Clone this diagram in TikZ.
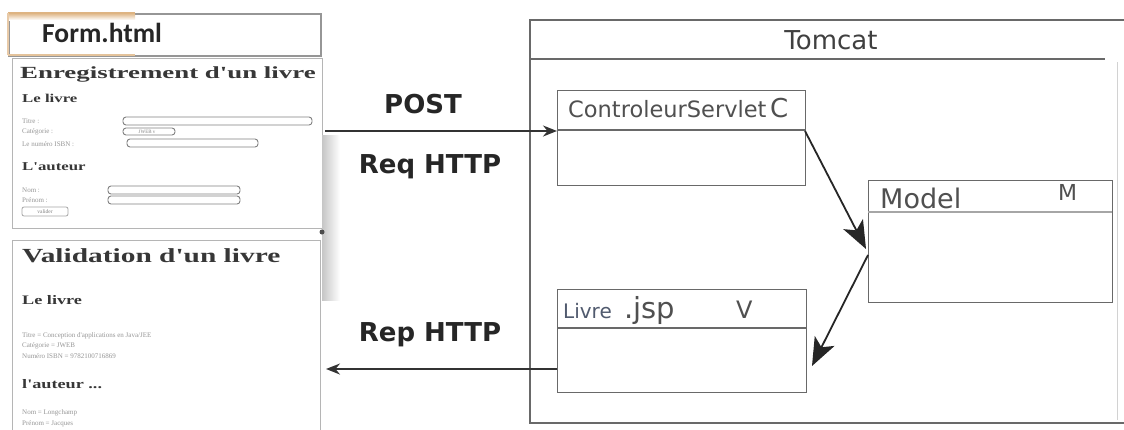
\documentclass[tikz,border=0pt]{standalone}
\usepackage{fontspec}
\setmainfont{DejaVu Sans}
\newfontfamily\carl{Carlito}
\newfontfamily\tnr{Liberation Serif}
\usetikzlibrary{arrows.meta,calc}
\definecolor{boxgray}{RGB}{105,105,105}
\definecolor{txtgray}{RGB}{80,80,80}
\definecolor{shotgray}{RGB}{55,55,55}
\definecolor{lightgray}{RGB}{150,150,150}
\definecolor{tanc}{RGB}{222,180,130}
\definecolor{livreblue}{RGB}{80,90,110}
\tikzset{
  umlbox/.style={draw=boxgray, line width=1.3pt, rectangle, inner sep=0pt},
  divider/.style={draw=boxgray, line width=1.8pt},
  lbl/.style={anchor=base west, inner sep=0pt, text=txtgray},
  http/.style={inner sep=0pt, font=\fontsize{26}{26}\selectfont\bfseries, text=black!85},
  flow/.style={draw=black!85, line width=1.8pt, -{Stealth[length=28pt,width=22pt,inset=7pt]}},
  msg/.style={draw=black!80, line width=1.8pt, -{Stealth[length=14pt,width=11pt]}},
  shot/.style={draw=lightgray!70, line width=1pt},
  shottitle/.style={anchor=base west, inner sep=0pt, text=shotgray, font=\tnr\bfseries},
  shotsmall/.style={anchor=base west, inner sep=0pt, text=lightgray, font=\tnr\fontsize{7}{7}\selectfont},
  field/.style={draw=gray, line width=0.9pt, rounded corners=3pt},
}
\begin{document}
\begin{tikzpicture}[x=1pt,y=-1pt]
\useasboundingbox (0,0) rectangle (1124,429);
\fill[white] (0,0) rectangle (1124,429);

% ---------------- Form.html header
\node[draw=lightgray, line width=1.5pt, minimum width=312pt, minimum height=42pt, anchor=north west] (formhdr) at (8,13) {};
\shade[top color=tanc, bottom color=white] (8,13) rectangle (135,20);
\draw[tanc, line width=2.5pt] (8,13) -- (135,13);
\draw[tanc!80, line width=2pt] (8,55) -- (135,55);
\draw[tanc!70, line width=1.5pt] (8,13) -- (8,55);
\node[anchor=base west, inner sep=0pt, font=\carl\bfseries\fontsize{27.5}{27.5}\selectfont, text=black!85] (formtxt) at (42,42) {Form.html};

% ---------------- Form screenshot
\node[shot, minimum width=310pt, minimum height=170pt, anchor=north west] (formshot) at (12,58) {};
\shade[left color=gray!45, right color=white] (322,135) rectangle (340,300);
\fill[black!70] (322,232) circle (2.5pt);
\node[shottitle, font=\tnr\bfseries\fontsize{17}{17}\selectfont] (enreg) at (20,78) {\scalebox{1.58}[1]{Enregistrement d'un livre}};
\node[shottitle, font=\tnr\bfseries\fontsize{12}{12}\selectfont] (lelivre1) at (22,102) {\scalebox{1.4}[1]{Le livre}};
\node[shotsmall] (t1) at (22,123) {Titre :};
\node[shotsmall] (t2) at (22,133) {Catégorie :};
\node[shotsmall] (t3) at (22,146) {Le numéro ISBN :};
\draw[field] (123,117) rectangle (312,125);
\draw[field] (123,128) rectangle (175,135);
\node[inner sep=0pt, font=\tnr\fontsize{5}{5}\selectfont, text=gray] (sel) at (147,131.5) {JWEB v};
\draw[field] (127,139) rectangle (258,147);
\node[shottitle, font=\tnr\bfseries\fontsize{12}{12}\selectfont] (lauteur1) at (22,170) {\scalebox{1.4}[1]{L'auteur}};
\node[shotsmall] (n1) at (22,192) {Nom :};
\node[shotsmall] (n2) at (22,202) {Prénom :};
\draw[field] (108,186) rectangle (240,194);
\draw[field] (108,196) rectangle (240,204);
\draw[draw=gray!70, line width=0.8pt, rounded corners=2pt] (22,207) rectangle (68,216);
\node[inner sep=0pt, font=\tnr\fontsize{5.5}{5.5}\selectfont, text=gray] (valbtn) at (45,211.5) {valider};

% ---------------- Validation screenshot
\node[shot, minimum width=308pt, minimum height=192pt, anchor=north west] (valshot) at (12,240) {};
\node[shottitle, font=\tnr\bfseries\fontsize{20}{20}\selectfont] (valid) at (22,262) {\scalebox{1.47}[1]{Validation d'un livre}};
\node[shottitle, font=\tnr\bfseries\fontsize{13}{13}\selectfont] (lelivre2) at (22,304) {\scalebox{1.4}[1]{Le livre}};
\node[shotsmall] (v1) at (22,337) {Titre = Conception d'applications en Java/JEE};
\node[shotsmall] (v2) at (22,347) {Catégorie = JWEB};
\node[shotsmall] (v3) at (22,358) {Numéro ISBN = 9782100716869};
\node[shottitle, font=\tnr\bfseries\fontsize{13}{13}\selectfont] (lauteur2) at (22,388) {\scalebox{1.4}[1]{l'auteur ...}};
\node[shotsmall] (v4) at (22,414) {Nom = Longchamp};
\node[shotsmall] (v5) at (22,425) {Prénom = Jacques};

% ---------------- Tomcat container
\draw[boxgray, line width=1.6pt] (1124,20) -- (530,20) -- (530,423) -- (1124,423);
\draw[gray!35, line width=1pt] (1117,62) -- (1117,420);
\draw[divider, line width=2pt] (530,59) -- (1105,59);
\node[inner sep=0pt, font=\fontsize{26}{26}\selectfont, text=black!75] (tomcat) at (831,40) {Tomcat};

% ---------------- Controller
\node[umlbox, minimum width=248pt, minimum height=95pt, anchor=north west] (ctrl) at (557,90) {};
\draw[divider] (557,130) -- (805,130);
\node[lbl, font=\fontsize{22.5}{22.5}\selectfont] (ctrltxt) at (568,117) {ControleurServlet};
\node[lbl, font=\fontsize{26}{26}\selectfont] (ctrlC) at (770,117) {C};

% ---------------- Model
\node[umlbox, minimum width=244pt, minimum height=122pt, anchor=north west] (model) at (868,180) {};
\draw[draw=gray!70, line width=1.2pt] (868,212) -- (1112,212);
\node[lbl, font=\fontsize{27}{27}\selectfont] (modeltxt) at (880,208) {Model};
\node[lbl, font=\fontsize{22}{22}\selectfont] (modelM) at (1058,200) {M};

% ---------------- View
\node[umlbox, minimum width=249pt, minimum height=103pt, anchor=north west] (view) at (557,289) {};
\draw[divider] (557,328) -- (806,328);
\node[lbl, font=\fontsize{20}{20}\selectfont, text=livreblue] (livre) at (563,318) {Livre};
\node[lbl, font=\fontsize{29}{29}\selectfont] (jsp) at (624,318) {.jsp};
\node[lbl, font=\fontsize{24}{24}\selectfont] (viewV) at (736,318) {V};

% ---------------- Connectors
\coordinate (postS) at (325,131);
\draw[msg] (postS) -- (ctrl.west |- postS);
\node[http] (post) at (423,104) {POST};
\node[http] (req) at (430,167) {Req HTTP};

\coordinate (ctrlOut) at (805,131);
\coordinate (modelIn) at (866,249);
\draw[flow] (ctrlOut) -- (modelIn);
\coordinate (modelOut) at (868,255);
\coordinate (viewIn) at (812,366);
\draw[flow] (modelOut) -- (viewIn);

\coordinate (repE) at (326,369);
\draw[msg] (view.west |- repE) -- (repE);
\node[http] (rep) at (430,335) {Rep HTTP};
\end{tikzpicture}
\end{document}
